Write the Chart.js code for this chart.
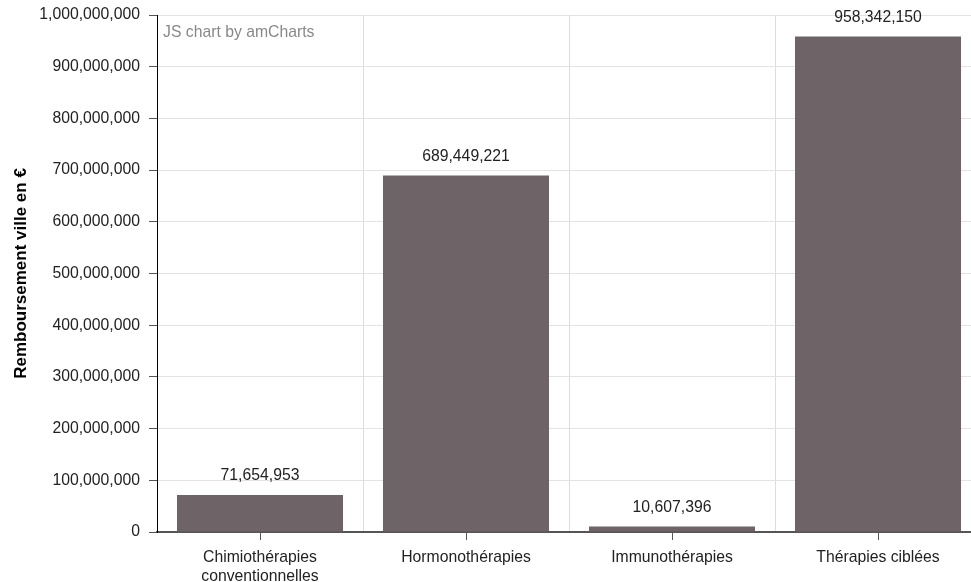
<!DOCTYPE html>
<html>
<head>
<meta charset="utf-8">
<script src="https://cdn.jsdelivr.net/npm/chart.js@4/dist/chart.umd.min.js"></script>
<style>
  html, body { margin: 0; padding: 0; background: #fff; overflow: hidden; }
  #wrap { width: 985px; height: 582px; position: relative; }
</style>
</head>
<body>
<div id="wrap"><canvas id="canvas_rembours"></canvas></div>
<script>
var categories = [['Chimiothérapies', 'conventionnelles'], 'Hormonothérapies', 'Immunothérapies', 'Thérapies ciblées'];
var remboursement = [71654953, 689449221, 10607396, 958342150];
var yTicksMax = 1000000000;
var yTicksStep = 100000000;

var fontFam = '"Liberation Sans", Arial, sans-serif';
var fontSz = 15.75;

function fmt(v) {
	return Number(v).toLocaleString('en-US');
}

// libelles des valeurs au-dessus des barres + petits ticks au centre des categories
var barLabels = {
	id: 'barLabels',
	afterDraw: function(chart) {
		var ctx = chart.ctx;
		var meta = chart.getDatasetMeta(0);
		var xs = chart.scales.x;
		var area = chart.chartArea;
		ctx.save();
		ctx.strokeStyle = '#555';
		ctx.lineWidth = 1;
		for (var i = 0; i < categories.length; i++) {
			var cx = Math.round(xs.getPixelForValue(i)) + 0.5;
			ctx.beginPath();
			ctx.moveTo(cx, area.bottom);
			ctx.lineTo(cx, area.bottom + 8);
			ctx.stroke();
		}
		ctx.font = fontSz + 'px ' + fontFam;
		ctx.fillStyle = '#222';
		ctx.textAlign = 'center';
		ctx.textBaseline = 'middle';
		meta.data.forEach(function(bar, i) {
			ctx.fillText(fmt(remboursement[i]), bar.x, bar.y - 19);
		});
		ctx.fillStyle = '#888';
		ctx.textAlign = 'left';
		ctx.fillText('JS chart by amCharts', area.left + 6, area.top + 18);
		ctx.restore();
	}
};

var configRemb = {
	type: 'bar',
	data: {
		labels: categories,
		datasets: [{
			data: remboursement,
			backgroundColor: '#6e6366',
			barPercentage: 0.806,
			categoryPercentage: 1.0
		}]
	},
	options: {
		responsive: true,
		maintainAspectRatio: false,
		animation: false,
		layout: { padding: { top: 15, right: 4, left: 0, bottom: 0 } },
		plugins: {
			legend: { display: false },
			tooltip: { enabled: false }
		},
		scales: {
			x: {
				offset: true,
				grid: { color: '#dddddd', drawTicks: false, offset: true },
				border: { color: '#555', width: 2 },
				ticks: {
					padding: 17,
					color: '#222',
					maxRotation: 0,
					autoSkip: false,
					font: { family: fontFam, size: fontSz, lineHeight: 1.15 }
				},
				afterFit: function(s) { s.height = 50; }
			},
			y: {
				min: 0,
				max: yTicksMax,
				grid: { color: '#e3e3e3', tickLength: 8, tickColor: '#555' },
				border: { color: '#000', width: 1 },
				ticks: {
					stepSize: yTicksStep,
					padding: 9,
					color: '#222',
					font: { family: fontFam, size: fontSz },
					callback: function(v) { return fmt(v); }
				},
				title: {
					display: true,
					text: 'Remboursement ville en €',
					color: '#000',
					font: { family: fontFam, size: 17, weight: 'bold' },
					padding: { top: 11, bottom: 0 }
				},
				afterFit: function(s) {
					s.width = 157;
					s.paddingTop = 0;
					s.paddingBottom = 0;
				}
			}
		}
	},
	plugins: [barLabels]
};

var ctx_remb = document.getElementById('canvas_rembours').getContext('2d');
new Chart(ctx_remb, configRemb);
</script>
</body>
</html>
